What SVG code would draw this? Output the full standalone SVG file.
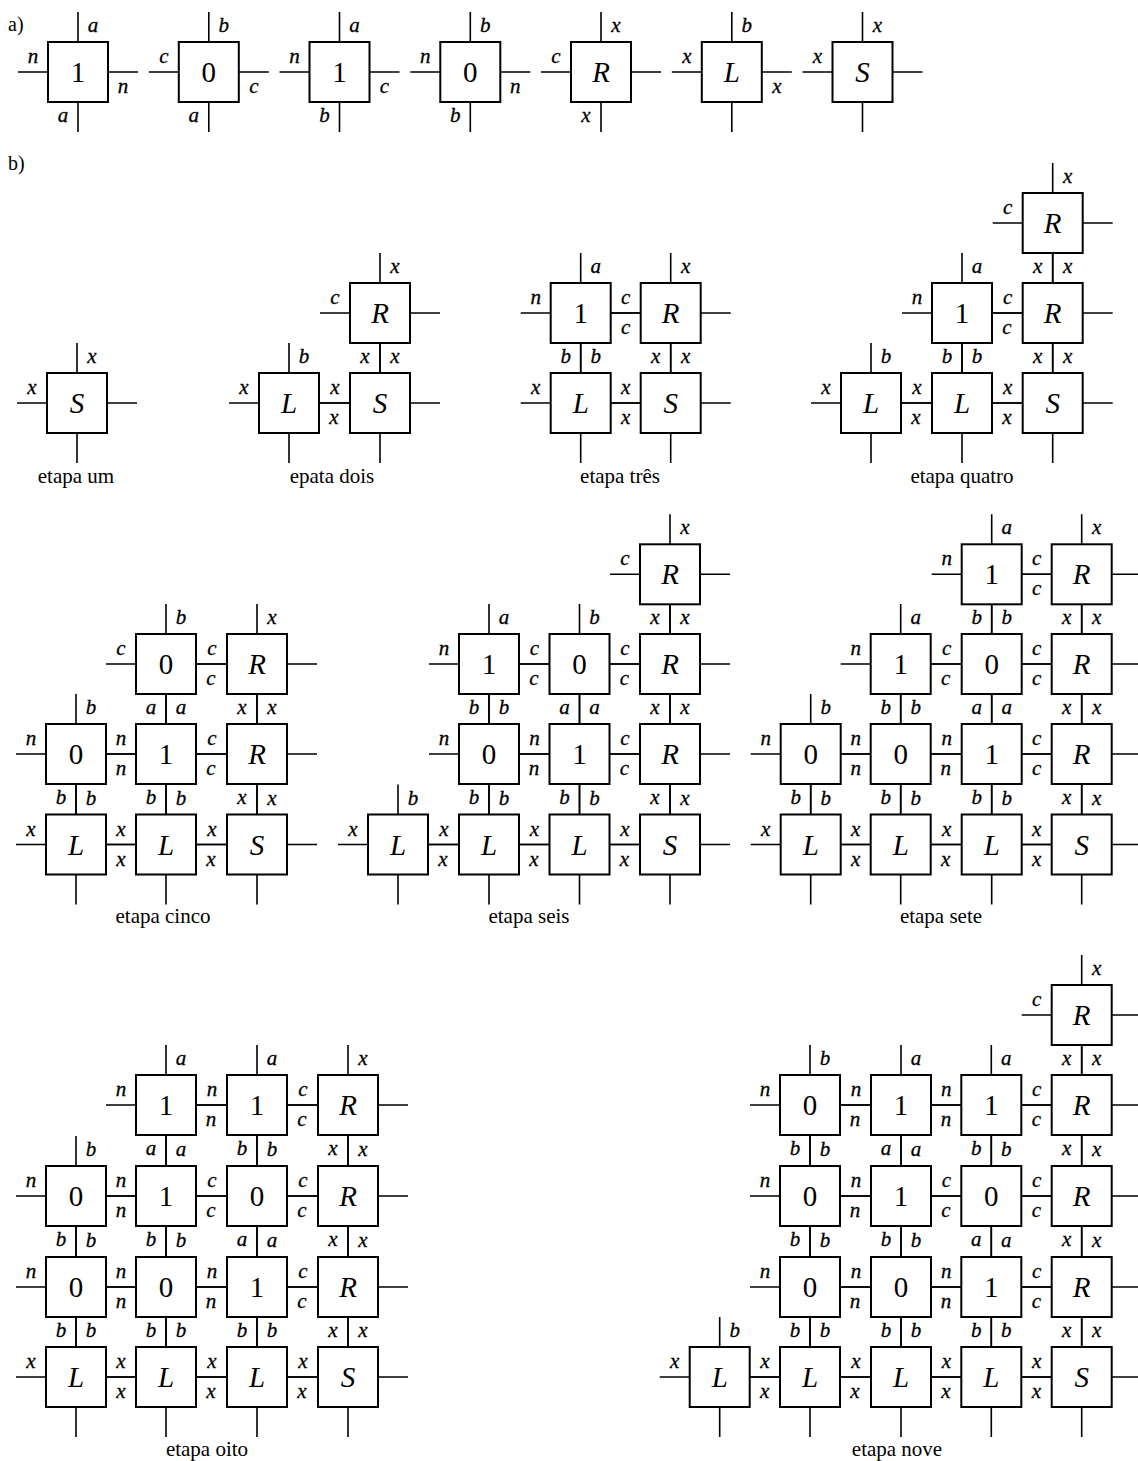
<svg xmlns="http://www.w3.org/2000/svg" width="1138" height="1461" viewBox="0 0 1138 1461">
<style>
.bx{fill:#fff;stroke:#000;stroke-width:2}
.arm{fill:none;stroke:#000;stroke-width:1.6}
.s{font-family:"Liberation Serif","Times New Roman",serif;font-size:29px;text-anchor:middle;fill:#000}
.i{font-style:italic}
.l{font-family:"Liberation Serif","Times New Roman",serif;font-size:21px;font-style:italic;text-anchor:middle;fill:#000;stroke:#000;stroke-width:0.3}
.cap{font-family:"Liberation Serif","Times New Roman",serif;font-size:21px;text-anchor:middle;fill:#000}
.hd{font-family:"Liberation Serif","Times New Roman",serif;font-size:20px;fill:#000}
</style>
<defs>
<rect id="bx" class="bx" x="-30" y="-30" width="60" height="60"/>
<path id="cross" class="arm" d="M0,-60V-30M0,30V60M-60,0H-30M30,0H60"/>
</defs>
<text class="hd" x="8" y="31">a)</text>
<text class="hd" x="8" y="170">b)</text>
<g id="connectors">
<use href="#cross" x="78" y="72"/><use href="#cross" x="208.8" y="72"/><use href="#cross" x="339.5" y="72"/><use href="#cross" x="470.3" y="72"/><use href="#cross" x="601" y="72"/><use href="#cross" x="731.8" y="72"/><use href="#cross" x="862.5" y="72"/>
<use href="#cross" x="77" y="403"/>
<use href="#cross" x="380" y="313"/><use href="#cross" x="289" y="403"/><use href="#cross" x="380" y="403"/>
<use href="#cross" x="580.7" y="313"/><use href="#cross" x="670.7" y="313"/><use href="#cross" x="580.7" y="403"/><use href="#cross" x="670.7" y="403"/>
<use href="#cross" x="1052.7" y="223"/><use href="#cross" x="962" y="313"/><use href="#cross" x="1052.7" y="313"/><use href="#cross" x="871" y="403"/><use href="#cross" x="962" y="403"/><use href="#cross" x="1052.7" y="403"/>
<use href="#cross" x="166" y="664"/><use href="#cross" x="257" y="664"/><use href="#cross" x="76" y="754"/><use href="#cross" x="166" y="754"/><use href="#cross" x="257" y="754"/><use href="#cross" x="76" y="844.5"/><use href="#cross" x="166" y="844.5"/><use href="#cross" x="257" y="844.5"/>
<use href="#cross" x="670" y="574.3"/><use href="#cross" x="489" y="664"/><use href="#cross" x="579.5" y="664"/><use href="#cross" x="670" y="664"/><use href="#cross" x="489" y="754"/><use href="#cross" x="579.5" y="754"/><use href="#cross" x="670" y="754"/><use href="#cross" x="398" y="844.5"/><use href="#cross" x="489" y="844.5"/><use href="#cross" x="579.5" y="844.5"/><use href="#cross" x="670" y="844.5"/>
<use href="#cross" x="991.7" y="574.3"/><use href="#cross" x="1081.7" y="574.3"/><use href="#cross" x="900.7" y="664"/><use href="#cross" x="991.7" y="664"/><use href="#cross" x="1081.7" y="664"/><use href="#cross" x="810.7" y="754"/><use href="#cross" x="900.7" y="754"/><use href="#cross" x="991.7" y="754"/><use href="#cross" x="1081.7" y="754"/><use href="#cross" x="810.7" y="844.5"/><use href="#cross" x="900.7" y="844.5"/><use href="#cross" x="991.7" y="844.5"/><use href="#cross" x="1081.7" y="844.5"/>
<use href="#cross" x="166" y="1105"/><use href="#cross" x="257" y="1105"/><use href="#cross" x="348" y="1105"/><use href="#cross" x="76" y="1196"/><use href="#cross" x="166" y="1196"/><use href="#cross" x="257" y="1196"/><use href="#cross" x="348" y="1196"/><use href="#cross" x="76" y="1287"/><use href="#cross" x="166" y="1287"/><use href="#cross" x="257" y="1287"/><use href="#cross" x="348" y="1287"/><use href="#cross" x="76" y="1377"/><use href="#cross" x="166" y="1377"/><use href="#cross" x="257" y="1377"/><use href="#cross" x="348" y="1377"/>
<use href="#cross" x="1081.7" y="1015"/><use href="#cross" x="810" y="1105"/><use href="#cross" x="901" y="1105"/><use href="#cross" x="991.3" y="1105"/><use href="#cross" x="1081.7" y="1105"/><use href="#cross" x="810" y="1196"/><use href="#cross" x="901" y="1196"/><use href="#cross" x="991.3" y="1196"/><use href="#cross" x="1081.7" y="1196"/><use href="#cross" x="810" y="1287"/><use href="#cross" x="901" y="1287"/><use href="#cross" x="991.3" y="1287"/><use href="#cross" x="1081.7" y="1287"/><use href="#cross" x="719.7" y="1377"/><use href="#cross" x="810" y="1377"/><use href="#cross" x="901" y="1377"/><use href="#cross" x="991.3" y="1377"/><use href="#cross" x="1081.7" y="1377"/>
</g>
<!-- part a -->
<g id="a-1" transform="translate(78,72)"><use href="#bx"/><text class="s" y="10">1</text><text class="l" x="15" y="-40">a</text><text class="l" x="-45" y="-9">n</text><text class="l" x="45" y="21">n</text><text class="l" x="-15" y="50">a</text></g>
<g id="a-2" transform="translate(208.8,72)"><use href="#bx"/><text class="s" y="10">0</text><text class="l" x="15" y="-40">b</text><text class="l" x="-45" y="-9">c</text><text class="l" x="45" y="21">c</text><text class="l" x="-15" y="50">a</text></g>
<g id="a-3" transform="translate(339.5,72)"><use href="#bx"/><text class="s" y="10">1</text><text class="l" x="15" y="-40">a</text><text class="l" x="-45" y="-9">n</text><text class="l" x="45" y="21">c</text><text class="l" x="-15" y="50">b</text></g>
<g id="a-4" transform="translate(470.3,72)"><use href="#bx"/><text class="s" y="10">0</text><text class="l" x="15" y="-40">b</text><text class="l" x="-45" y="-9">n</text><text class="l" x="45" y="21">n</text><text class="l" x="-15" y="50">b</text></g>
<g id="a-R" transform="translate(601,72)"><use href="#bx"/><text class="s i" y="10">R</text><text class="l" x="15" y="-40">x</text><text class="l" x="-45" y="-9">c</text><text class="l" x="-15" y="50">x</text></g>
<g id="a-L" transform="translate(731.8,72)"><use href="#bx"/><text class="s i" y="10">L</text><text class="l" x="15" y="-40">b</text><text class="l" x="-45" y="-9">x</text><text class="l" x="45" y="21">x</text></g>
<g id="a-S" transform="translate(862.5,72)"><use href="#bx"/><text class="s i" y="10">S</text><text class="l" x="15" y="-40">x</text><text class="l" x="-45" y="-9">x</text></g>
<!-- etapa um -->
<g id="s1-S" transform="translate(77,403)"><use href="#bx"/><text class="s i" y="10">S</text><text class="l" x="15" y="-40">x</text><text class="l" x="-45" y="-9">x</text></g>
<text class="cap" x="76" y="483">etapa um</text>
<!-- epata dois -->
<g id="s2-R" transform="translate(380,313)"><use href="#bx"/><text class="s i" y="10">R</text><text class="l" x="15" y="-40">x</text><text class="l" x="-45" y="-9">c</text><text class="l" x="-15" y="50">x</text></g>
<g id="s2-L" transform="translate(289,403)"><use href="#bx"/><text class="s i" y="10">L</text><text class="l" x="15" y="-40">b</text><text class="l" x="-45" y="-9">x</text><text class="l" x="45" y="21">x</text></g>
<g id="s2-S" transform="translate(380,403)"><use href="#bx"/><text class="s i" y="10">S</text><text class="l" x="15" y="-40">x</text><text class="l" x="-45" y="-9">x</text></g>
<text class="cap" x="332" y="483">epata dois</text>
<!-- etapa tres -->
<g id="s3-1" transform="translate(580.7,313)"><use href="#bx"/><text class="s" y="10">1</text><text class="l" x="15" y="-40">a</text><text class="l" x="-45" y="-9">n</text><text class="l" x="45" y="21">c</text><text class="l" x="-15" y="50">b</text></g>
<g id="s3-R" transform="translate(670.7,313)"><use href="#bx"/><text class="s i" y="10">R</text><text class="l" x="15" y="-40">x</text><text class="l" x="-45" y="-9">c</text><text class="l" x="-15" y="50">x</text></g>
<g id="s3-L" transform="translate(580.7,403)"><use href="#bx"/><text class="s i" y="10">L</text><text class="l" x="15" y="-40">b</text><text class="l" x="-45" y="-9">x</text><text class="l" x="45" y="21">x</text></g>
<g id="s3-S" transform="translate(670.7,403)"><use href="#bx"/><text class="s i" y="10">S</text><text class="l" x="15" y="-40">x</text><text class="l" x="-45" y="-9">x</text></g>
<text class="cap" x="620" y="483">etapa três</text>
<!-- etapa quatro -->
<g id="s4-R0" transform="translate(1052.7,223)"><use href="#bx"/><text class="s i" y="10">R</text><text class="l" x="15" y="-40">x</text><text class="l" x="-45" y="-9">c</text><text class="l" x="-15" y="50">x</text></g>
<g id="s4-1" transform="translate(962,313)"><use href="#bx"/><text class="s" y="10">1</text><text class="l" x="15" y="-40">a</text><text class="l" x="-45" y="-9">n</text><text class="l" x="45" y="21">c</text><text class="l" x="-15" y="50">b</text></g>
<g id="s4-R1" transform="translate(1052.7,313)"><use href="#bx"/><text class="s i" y="10">R</text><text class="l" x="15" y="-40">x</text><text class="l" x="-45" y="-9">c</text><text class="l" x="-15" y="50">x</text></g>
<g id="s4-L1" transform="translate(871,403)"><use href="#bx"/><text class="s i" y="10">L</text><text class="l" x="15" y="-40">b</text><text class="l" x="-45" y="-9">x</text><text class="l" x="45" y="21">x</text></g>
<g id="s4-L2" transform="translate(962,403)"><use href="#bx"/><text class="s i" y="10">L</text><text class="l" x="15" y="-40">b</text><text class="l" x="-45" y="-9">x</text><text class="l" x="45" y="21">x</text></g>
<g id="s4-S" transform="translate(1052.7,403)"><use href="#bx"/><text class="s i" y="10">S</text><text class="l" x="15" y="-40">x</text><text class="l" x="-45" y="-9">x</text></g>
<text class="cap" x="962" y="483">etapa quatro</text>
<!-- etapa cinco -->
<g id="s5-r1c2" transform="translate(166,664)"><use href="#bx"/><text class="s" y="10">0</text><text class="l" x="15" y="-40">b</text><text class="l" x="-45" y="-9">c</text><text class="l" x="45" y="21">c</text><text class="l" x="-15" y="50">a</text></g>
<g id="s5-r1c3" transform="translate(257,664)"><use href="#bx"/><text class="s i" y="10">R</text><text class="l" x="15" y="-40">x</text><text class="l" x="-45" y="-9">c</text><text class="l" x="-15" y="50">x</text></g>
<g id="s5-r2c1" transform="translate(76,754)"><use href="#bx"/><text class="s" y="10">0</text><text class="l" x="15" y="-40">b</text><text class="l" x="-45" y="-9">n</text><text class="l" x="45" y="21">n</text><text class="l" x="-15" y="50">b</text></g>
<g id="s5-r2c2" transform="translate(166,754)"><use href="#bx"/><text class="s" y="10">1</text><text class="l" x="15" y="-40">a</text><text class="l" x="-45" y="-9">n</text><text class="l" x="45" y="21">c</text><text class="l" x="-15" y="50">b</text></g>
<g id="s5-r2c3" transform="translate(257,754)"><use href="#bx"/><text class="s i" y="10">R</text><text class="l" x="15" y="-40">x</text><text class="l" x="-45" y="-9">c</text><text class="l" x="-15" y="50">x</text></g>
<g id="s5-r3c1" transform="translate(76,844.5)"><use href="#bx"/><text class="s i" y="10">L</text><text class="l" x="15" y="-40">b</text><text class="l" x="-45" y="-9">x</text><text class="l" x="45" y="21">x</text></g>
<g id="s5-r3c2" transform="translate(166,844.5)"><use href="#bx"/><text class="s i" y="10">L</text><text class="l" x="15" y="-40">b</text><text class="l" x="-45" y="-9">x</text><text class="l" x="45" y="21">x</text></g>
<g id="s5-r3c3" transform="translate(257,844.5)"><use href="#bx"/><text class="s i" y="10">S</text><text class="l" x="15" y="-40">x</text><text class="l" x="-45" y="-9">x</text></g>
<text class="cap" x="163" y="923">etapa cinco</text>
<!-- etapa seis -->
<g id="s6-r0c4" transform="translate(670,574.3)"><use href="#bx"/><text class="s i" y="10">R</text><text class="l" x="15" y="-40">x</text><text class="l" x="-45" y="-9">c</text><text class="l" x="-15" y="50">x</text></g>
<g id="s6-r1c2" transform="translate(489,664)"><use href="#bx"/><text class="s" y="10">1</text><text class="l" x="15" y="-40">a</text><text class="l" x="-45" y="-9">n</text><text class="l" x="45" y="21">c</text><text class="l" x="-15" y="50">b</text></g>
<g id="s6-r1c3" transform="translate(579.5,664)"><use href="#bx"/><text class="s" y="10">0</text><text class="l" x="15" y="-40">b</text><text class="l" x="-45" y="-9">c</text><text class="l" x="45" y="21">c</text><text class="l" x="-15" y="50">a</text></g>
<g id="s6-r1c4" transform="translate(670,664)"><use href="#bx"/><text class="s i" y="10">R</text><text class="l" x="15" y="-40">x</text><text class="l" x="-45" y="-9">c</text><text class="l" x="-15" y="50">x</text></g>
<g id="s6-r2c2" transform="translate(489,754)"><use href="#bx"/><text class="s" y="10">0</text><text class="l" x="15" y="-40">b</text><text class="l" x="-45" y="-9">n</text><text class="l" x="45" y="21">n</text><text class="l" x="-15" y="50">b</text></g>
<g id="s6-r2c3" transform="translate(579.5,754)"><use href="#bx"/><text class="s" y="10">1</text><text class="l" x="15" y="-40">a</text><text class="l" x="-45" y="-9">n</text><text class="l" x="45" y="21">c</text><text class="l" x="-15" y="50">b</text></g>
<g id="s6-r2c4" transform="translate(670,754)"><use href="#bx"/><text class="s i" y="10">R</text><text class="l" x="15" y="-40">x</text><text class="l" x="-45" y="-9">c</text><text class="l" x="-15" y="50">x</text></g>
<g id="s6-r3c1" transform="translate(398,844.5)"><use href="#bx"/><text class="s i" y="10">L</text><text class="l" x="15" y="-40">b</text><text class="l" x="-45" y="-9">x</text><text class="l" x="45" y="21">x</text></g>
<g id="s6-r3c2" transform="translate(489,844.5)"><use href="#bx"/><text class="s i" y="10">L</text><text class="l" x="15" y="-40">b</text><text class="l" x="-45" y="-9">x</text><text class="l" x="45" y="21">x</text></g>
<g id="s6-r3c3" transform="translate(579.5,844.5)"><use href="#bx"/><text class="s i" y="10">L</text><text class="l" x="15" y="-40">b</text><text class="l" x="-45" y="-9">x</text><text class="l" x="45" y="21">x</text></g>
<g id="s6-r3c4" transform="translate(670,844.5)"><use href="#bx"/><text class="s i" y="10">S</text><text class="l" x="15" y="-40">x</text><text class="l" x="-45" y="-9">x</text></g>
<text class="cap" x="529" y="923">etapa seis</text>
<!-- etapa sete -->
<g id="s7-r0c3" transform="translate(991.7,574.3)"><use href="#bx"/><text class="s" y="10">1</text><text class="l" x="15" y="-40">a</text><text class="l" x="-45" y="-9">n</text><text class="l" x="45" y="21">c</text><text class="l" x="-15" y="50">b</text></g>
<g id="s7-r0c4" transform="translate(1081.7,574.3)"><use href="#bx"/><text class="s i" y="10">R</text><text class="l" x="15" y="-40">x</text><text class="l" x="-45" y="-9">c</text><text class="l" x="-15" y="50">x</text></g>
<g id="s7-r1c2" transform="translate(900.7,664)"><use href="#bx"/><text class="s" y="10">1</text><text class="l" x="15" y="-40">a</text><text class="l" x="-45" y="-9">n</text><text class="l" x="45" y="21">c</text><text class="l" x="-15" y="50">b</text></g>
<g id="s7-r1c3" transform="translate(991.7,664)"><use href="#bx"/><text class="s" y="10">0</text><text class="l" x="15" y="-40">b</text><text class="l" x="-45" y="-9">c</text><text class="l" x="45" y="21">c</text><text class="l" x="-15" y="50">a</text></g>
<g id="s7-r1c4" transform="translate(1081.7,664)"><use href="#bx"/><text class="s i" y="10">R</text><text class="l" x="15" y="-40">x</text><text class="l" x="-45" y="-9">c</text><text class="l" x="-15" y="50">x</text></g>
<g id="s7-r2c1" transform="translate(810.7,754)"><use href="#bx"/><text class="s" y="10">0</text><text class="l" x="15" y="-40">b</text><text class="l" x="-45" y="-9">n</text><text class="l" x="45" y="21">n</text><text class="l" x="-15" y="50">b</text></g>
<g id="s7-r2c2" transform="translate(900.7,754)"><use href="#bx"/><text class="s" y="10">0</text><text class="l" x="15" y="-40">b</text><text class="l" x="-45" y="-9">n</text><text class="l" x="45" y="21">n</text><text class="l" x="-15" y="50">b</text></g>
<g id="s7-r2c3" transform="translate(991.7,754)"><use href="#bx"/><text class="s" y="10">1</text><text class="l" x="15" y="-40">a</text><text class="l" x="-45" y="-9">n</text><text class="l" x="45" y="21">c</text><text class="l" x="-15" y="50">b</text></g>
<g id="s7-r2c4" transform="translate(1081.7,754)"><use href="#bx"/><text class="s i" y="10">R</text><text class="l" x="15" y="-40">x</text><text class="l" x="-45" y="-9">c</text><text class="l" x="-15" y="50">x</text></g>
<g id="s7-r3c1" transform="translate(810.7,844.5)"><use href="#bx"/><text class="s i" y="10">L</text><text class="l" x="15" y="-40">b</text><text class="l" x="-45" y="-9">x</text><text class="l" x="45" y="21">x</text></g>
<g id="s7-r3c2" transform="translate(900.7,844.5)"><use href="#bx"/><text class="s i" y="10">L</text><text class="l" x="15" y="-40">b</text><text class="l" x="-45" y="-9">x</text><text class="l" x="45" y="21">x</text></g>
<g id="s7-r3c3" transform="translate(991.7,844.5)"><use href="#bx"/><text class="s i" y="10">L</text><text class="l" x="15" y="-40">b</text><text class="l" x="-45" y="-9">x</text><text class="l" x="45" y="21">x</text></g>
<g id="s7-r3c4" transform="translate(1081.7,844.5)"><use href="#bx"/><text class="s i" y="10">S</text><text class="l" x="15" y="-40">x</text><text class="l" x="-45" y="-9">x</text></g>
<text class="cap" x="941" y="923">etapa sete</text>
<!-- etapa oito -->
<g id="s8-r0c2" transform="translate(166,1105)"><use href="#bx"/><text class="s" y="10">1</text><text class="l" x="15" y="-40">a</text><text class="l" x="-45" y="-9">n</text><text class="l" x="45" y="21">n</text><text class="l" x="-15" y="50">a</text></g>
<g id="s8-r0c3" transform="translate(257,1105)"><use href="#bx"/><text class="s" y="10">1</text><text class="l" x="15" y="-40">a</text><text class="l" x="-45" y="-9">n</text><text class="l" x="45" y="21">c</text><text class="l" x="-15" y="50">b</text></g>
<g id="s8-r0c4" transform="translate(348,1105)"><use href="#bx"/><text class="s i" y="10">R</text><text class="l" x="15" y="-40">x</text><text class="l" x="-45" y="-9">c</text><text class="l" x="-15" y="50">x</text></g>
<g id="s8-r1c1" transform="translate(76,1196)"><use href="#bx"/><text class="s" y="10">0</text><text class="l" x="15" y="-40">b</text><text class="l" x="-45" y="-9">n</text><text class="l" x="45" y="21">n</text><text class="l" x="-15" y="50">b</text></g>
<g id="s8-r1c2" transform="translate(166,1196)"><use href="#bx"/><text class="s" y="10">1</text><text class="l" x="15" y="-40">a</text><text class="l" x="-45" y="-9">n</text><text class="l" x="45" y="21">c</text><text class="l" x="-15" y="50">b</text></g>
<g id="s8-r1c3" transform="translate(257,1196)"><use href="#bx"/><text class="s" y="10">0</text><text class="l" x="15" y="-40">b</text><text class="l" x="-45" y="-9">c</text><text class="l" x="45" y="21">c</text><text class="l" x="-15" y="50">a</text></g>
<g id="s8-r1c4" transform="translate(348,1196)"><use href="#bx"/><text class="s i" y="10">R</text><text class="l" x="15" y="-40">x</text><text class="l" x="-45" y="-9">c</text><text class="l" x="-15" y="50">x</text></g>
<g id="s8-r2c1" transform="translate(76,1287)"><use href="#bx"/><text class="s" y="10">0</text><text class="l" x="15" y="-40">b</text><text class="l" x="-45" y="-9">n</text><text class="l" x="45" y="21">n</text><text class="l" x="-15" y="50">b</text></g>
<g id="s8-r2c2" transform="translate(166,1287)"><use href="#bx"/><text class="s" y="10">0</text><text class="l" x="15" y="-40">b</text><text class="l" x="-45" y="-9">n</text><text class="l" x="45" y="21">n</text><text class="l" x="-15" y="50">b</text></g>
<g id="s8-r2c3" transform="translate(257,1287)"><use href="#bx"/><text class="s" y="10">1</text><text class="l" x="15" y="-40">a</text><text class="l" x="-45" y="-9">n</text><text class="l" x="45" y="21">c</text><text class="l" x="-15" y="50">b</text></g>
<g id="s8-r2c4" transform="translate(348,1287)"><use href="#bx"/><text class="s i" y="10">R</text><text class="l" x="15" y="-40">x</text><text class="l" x="-45" y="-9">c</text><text class="l" x="-15" y="50">x</text></g>
<g id="s8-r3c1" transform="translate(76,1377)"><use href="#bx"/><text class="s i" y="10">L</text><text class="l" x="15" y="-40">b</text><text class="l" x="-45" y="-9">x</text><text class="l" x="45" y="21">x</text></g>
<g id="s8-r3c2" transform="translate(166,1377)"><use href="#bx"/><text class="s i" y="10">L</text><text class="l" x="15" y="-40">b</text><text class="l" x="-45" y="-9">x</text><text class="l" x="45" y="21">x</text></g>
<g id="s8-r3c3" transform="translate(257,1377)"><use href="#bx"/><text class="s i" y="10">L</text><text class="l" x="15" y="-40">b</text><text class="l" x="-45" y="-9">x</text><text class="l" x="45" y="21">x</text></g>
<g id="s8-r3c4" transform="translate(348,1377)"><use href="#bx"/><text class="s i" y="10">S</text><text class="l" x="15" y="-40">x</text><text class="l" x="-45" y="-9">x</text></g>
<text class="cap" x="207" y="1456">etapa oito</text>
<!-- etapa nove -->
<g id="s9-rtc5" transform="translate(1081.7,1015)"><use href="#bx"/><text class="s i" y="10">R</text><text class="l" x="15" y="-40">x</text><text class="l" x="-45" y="-9">c</text><text class="l" x="-15" y="50">x</text></g>
<g id="s9-r0c2" transform="translate(810,1105)"><use href="#bx"/><text class="s" y="10">0</text><text class="l" x="15" y="-40">b</text><text class="l" x="-45" y="-9">n</text><text class="l" x="45" y="21">n</text><text class="l" x="-15" y="50">b</text></g>
<g id="s9-r0c3" transform="translate(901,1105)"><use href="#bx"/><text class="s" y="10">1</text><text class="l" x="15" y="-40">a</text><text class="l" x="-45" y="-9">n</text><text class="l" x="45" y="21">n</text><text class="l" x="-15" y="50">a</text></g>
<g id="s9-r0c4" transform="translate(991.3,1105)"><use href="#bx"/><text class="s" y="10">1</text><text class="l" x="15" y="-40">a</text><text class="l" x="-45" y="-9">n</text><text class="l" x="45" y="21">c</text><text class="l" x="-15" y="50">b</text></g>
<g id="s9-r0c5" transform="translate(1081.7,1105)"><use href="#bx"/><text class="s i" y="10">R</text><text class="l" x="15" y="-40">x</text><text class="l" x="-45" y="-9">c</text><text class="l" x="-15" y="50">x</text></g>
<g id="s9-r1c2" transform="translate(810,1196)"><use href="#bx"/><text class="s" y="10">0</text><text class="l" x="15" y="-40">b</text><text class="l" x="-45" y="-9">n</text><text class="l" x="45" y="21">n</text><text class="l" x="-15" y="50">b</text></g>
<g id="s9-r1c3" transform="translate(901,1196)"><use href="#bx"/><text class="s" y="10">1</text><text class="l" x="15" y="-40">a</text><text class="l" x="-45" y="-9">n</text><text class="l" x="45" y="21">c</text><text class="l" x="-15" y="50">b</text></g>
<g id="s9-r1c4" transform="translate(991.3,1196)"><use href="#bx"/><text class="s" y="10">0</text><text class="l" x="15" y="-40">b</text><text class="l" x="-45" y="-9">c</text><text class="l" x="45" y="21">c</text><text class="l" x="-15" y="50">a</text></g>
<g id="s9-r1c5" transform="translate(1081.7,1196)"><use href="#bx"/><text class="s i" y="10">R</text><text class="l" x="15" y="-40">x</text><text class="l" x="-45" y="-9">c</text><text class="l" x="-15" y="50">x</text></g>
<g id="s9-r2c2" transform="translate(810,1287)"><use href="#bx"/><text class="s" y="10">0</text><text class="l" x="15" y="-40">b</text><text class="l" x="-45" y="-9">n</text><text class="l" x="45" y="21">n</text><text class="l" x="-15" y="50">b</text></g>
<g id="s9-r2c3" transform="translate(901,1287)"><use href="#bx"/><text class="s" y="10">0</text><text class="l" x="15" y="-40">b</text><text class="l" x="-45" y="-9">n</text><text class="l" x="45" y="21">n</text><text class="l" x="-15" y="50">b</text></g>
<g id="s9-r2c4" transform="translate(991.3,1287)"><use href="#bx"/><text class="s" y="10">1</text><text class="l" x="15" y="-40">a</text><text class="l" x="-45" y="-9">n</text><text class="l" x="45" y="21">c</text><text class="l" x="-15" y="50">b</text></g>
<g id="s9-r2c5" transform="translate(1081.7,1287)"><use href="#bx"/><text class="s i" y="10">R</text><text class="l" x="15" y="-40">x</text><text class="l" x="-45" y="-9">c</text><text class="l" x="-15" y="50">x</text></g>
<g id="s9-r3c1" transform="translate(719.7,1377)"><use href="#bx"/><text class="s i" y="10">L</text><text class="l" x="15" y="-40">b</text><text class="l" x="-45" y="-9">x</text><text class="l" x="45" y="21">x</text></g>
<g id="s9-r3c2" transform="translate(810,1377)"><use href="#bx"/><text class="s i" y="10">L</text><text class="l" x="15" y="-40">b</text><text class="l" x="-45" y="-9">x</text><text class="l" x="45" y="21">x</text></g>
<g id="s9-r3c3" transform="translate(901,1377)"><use href="#bx"/><text class="s i" y="10">L</text><text class="l" x="15" y="-40">b</text><text class="l" x="-45" y="-9">x</text><text class="l" x="45" y="21">x</text></g>
<g id="s9-r3c4" transform="translate(991.3,1377)"><use href="#bx"/><text class="s i" y="10">L</text><text class="l" x="15" y="-40">b</text><text class="l" x="-45" y="-9">x</text><text class="l" x="45" y="21">x</text></g>
<g id="s9-r3c5" transform="translate(1081.7,1377)"><use href="#bx"/><text class="s i" y="10">S</text><text class="l" x="15" y="-40">x</text><text class="l" x="-45" y="-9">x</text></g>
<text class="cap" x="897" y="1456">etapa nove</text>
</svg>
